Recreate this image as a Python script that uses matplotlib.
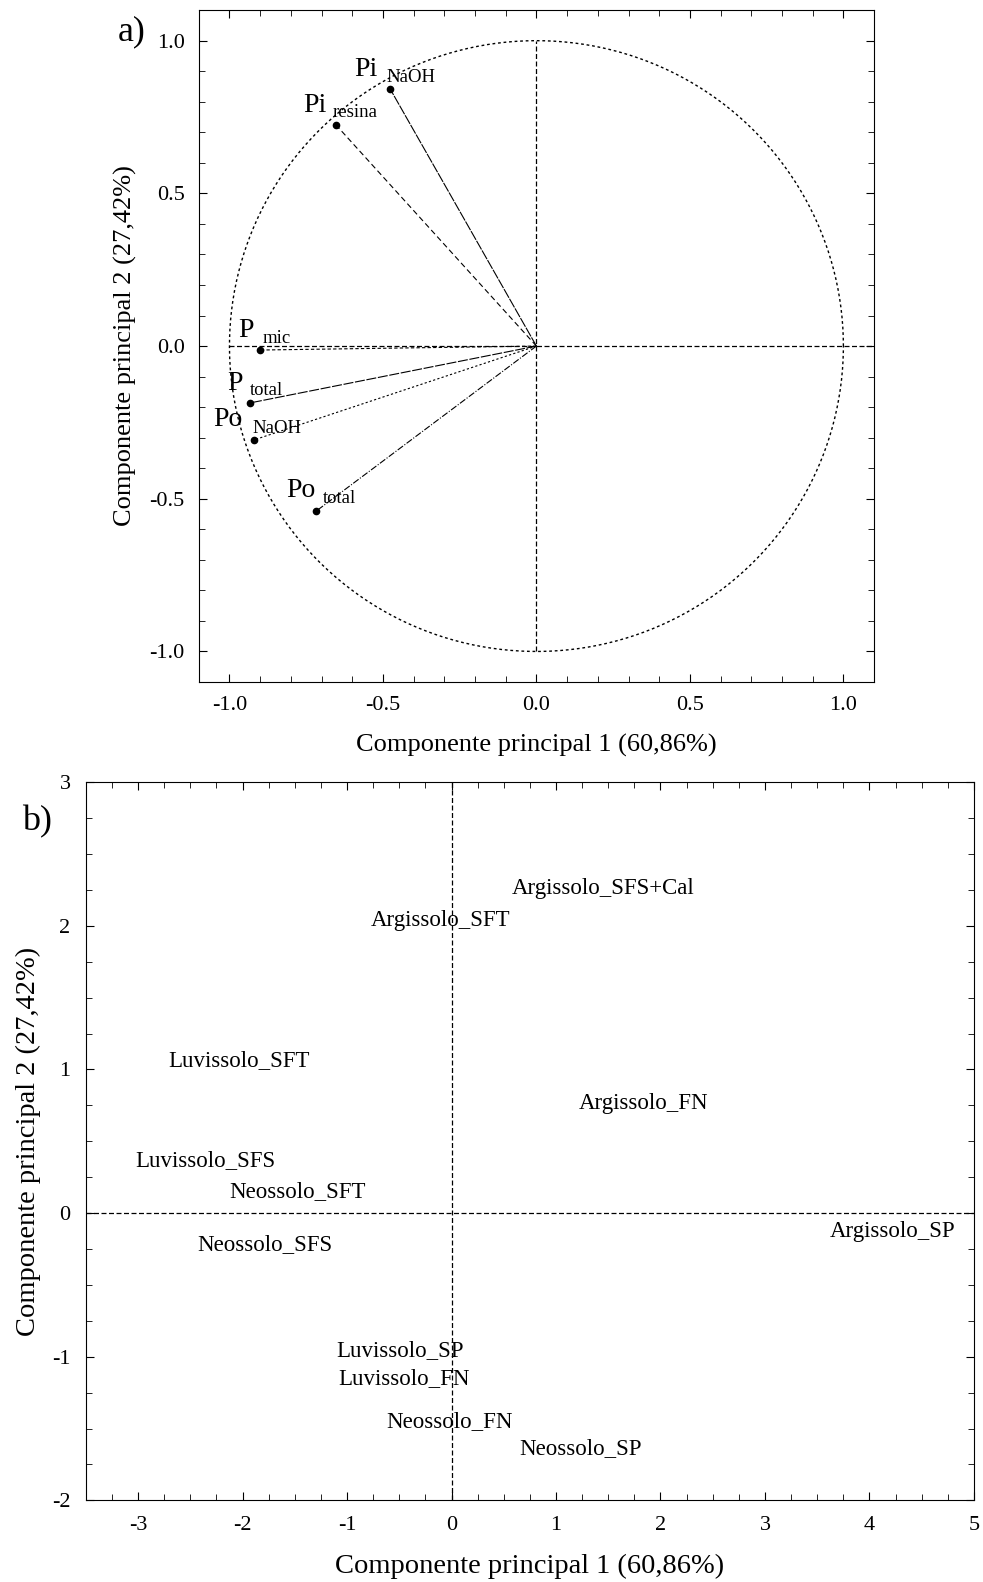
import numpy as np
import matplotlib
matplotlib.use("Agg")
import matplotlib.pyplot as plt
from matplotlib.ticker import MultipleLocator

plt.rcParams.update({
    "font.family": ["Liberation Serif", "DejaVu Serif"],
    "xtick.direction": "in",
    "ytick.direction": "in",
    "xtick.top": True,
    "ytick.right": True,
})

# ---- panel a: loadings on the correlation circle ----
VAR_MAIN = ["Pi", "Pi", "P", "P", "Po", "Po"]
VAR_SUB = ["NaOH", "resina", "mic", "total", "NaOH", "total"]
PC1_LOAD = [-0.476, -0.652, -0.899, -0.932, -0.919, -0.717]
PC2_LOAD = [0.841, 0.723, -0.013, -0.186, -0.307, -0.540]

# ---- panel b: scores ----
SAMPLES = ["Argissolo_SFS+Cal", "Argissolo_SFT", "Luvissolo_SFT", "Argissolo_FN",
           "Luvissolo_SFS", "Neossolo_SFT", "Neossolo_SFS", "Argissolo_SP",
           "Luvissolo_SP", "Luvissolo_FN", "Neossolo_FN", "Neossolo_SP"]
PC1_SCORE = [0.58, -0.77, -2.71, 1.22, -3.03, -2.13, -2.43, 3.62, -1.10, -1.08, -0.62, 0.65]
PC2_SCORE = [2.26, 2.04, 1.06, 0.76, 0.365, 0.147, -0.22, -0.126, -0.955, -1.15, -1.45, -1.64]

XLAB = "Componente principal 1 (60,86%)"
YLAB = "Componente principal 2 (27,42%)"

# line style per loading vector and label offsets (pixels) for main text / subscript
VEC_STYLES = [(0, (9, 1)), (0, (5, 3)), (0, (3, 2)), (0, (9, 1.5)), (0, (2, 2)), (0, (6, 1.5, 1, 1.5))]
MAIN_OFF = [(-13, 13), (-10, 13), (-7, 13), (-8, 13), (-12, 14), (-1, 14)]
SUB_OFF = [(-4, 7), (-4, 8), (2, 7), (0, 8), (-2, 7), (7, 8)]

fig = plt.figure(figsize=(9.83, 15.82), dpi=100)

# ---------------- panel a ----------------
ax1 = fig.add_axes([0.2022, 0.5689, 0.687, 0.4247])
ax1.set_xlim(-1.1, 1.1)
ax1.set_ylim(-1.1, 1.1)

t = np.linspace(0, 2 * np.pi, 400)
ax1.plot(np.cos(t), np.sin(t), color="black", lw=1.0, ls=(0, (2, 2)))
ax1.plot([-1.0, 1.1], [0, 0], color="black", lw=0.9, ls=(0, (4, 2)))
ax1.plot([0, 0], [-1.0, 1.0], color="black", lw=0.9, ls=(0, (4, 2)))

for i in range(len(VAR_MAIN)):
    x, y = PC1_LOAD[i], PC2_LOAD[i]
    ax1.plot([0, x], [0, y], color="black", lw=0.8, ls=VEC_STYLES[i])
    ax1.plot(x, y, "o", color="black", ms=4.5)
    ax1.annotate(VAR_MAIN[i], (x, y), xytext=MAIN_OFF[i], textcoords="offset pixels",
                 ha="right", va="baseline", fontsize=20)
    ax1.annotate(VAR_SUB[i], (x, y), xytext=SUB_OFF[i], textcoords="offset pixels",
                 ha="left", va="baseline", fontsize=13.5)

ax1.xaxis.set_major_locator(MultipleLocator(0.5))
ax1.yaxis.set_major_locator(MultipleLocator(0.5))
ax1.xaxis.set_minor_locator(MultipleLocator(0.1))
ax1.yaxis.set_minor_locator(MultipleLocator(0.1))
ax1.xaxis.set_major_formatter(lambda v, p: f"{v:.1f}")
ax1.yaxis.set_major_formatter(lambda v, p: f"{v:.1f}")
ax1.tick_params(which="major", length=6, labelsize=16, pad=10)
ax1.tick_params(which="minor", length=4)
ax1.set_xlabel(XLAB, fontsize=19, labelpad=14)
ax1.set_ylabel(YLAB, fontsize=19, labelpad=9)
fig.text(0.120, 0.980, "a)", fontsize=26, ha="left", va="center")

# ---------------- panel b ----------------
ax2 = fig.add_axes([0.0873, 0.0516, 0.9035, 0.454])
ax2.set_xlim(-3.5, 5)
ax2.set_ylim(-2, 3)
ax2.axhline(0, color="black", lw=0.9, ls=(0, (4, 2)))
ax2.axvline(0, color="black", lw=0.9, ls=(0, (4, 2)))

for name, x, y in zip(SAMPLES, PC1_SCORE, PC2_SCORE):
    ax2.text(x, y, name, ha="left", va="center", fontsize=16.5)

ax2.xaxis.set_major_locator(MultipleLocator(1))
ax2.yaxis.set_major_locator(MultipleLocator(1))
ax2.xaxis.set_minor_locator(MultipleLocator(0.25))
ax2.yaxis.set_minor_locator(MultipleLocator(0.25))
ax2.xaxis.set_major_formatter(lambda v, p: f"{v:.0f}")
ax2.yaxis.set_major_formatter(lambda v, p: f"{v:.0f}")
ax2.tick_params(which="major", length=6, labelsize=16, pad=11)
ax2.tick_params(which="minor", length=4)
ax2.set_xlabel(XLAB, fontsize=20.5, labelpad=14)
ax2.set_ylabel(YLAB, fontsize=20.5, labelpad=8)
fig.text(0.022, 0.4805, "b)", fontsize=26, ha="left", va="center")

fig.savefig("out.png", dpi=100)
